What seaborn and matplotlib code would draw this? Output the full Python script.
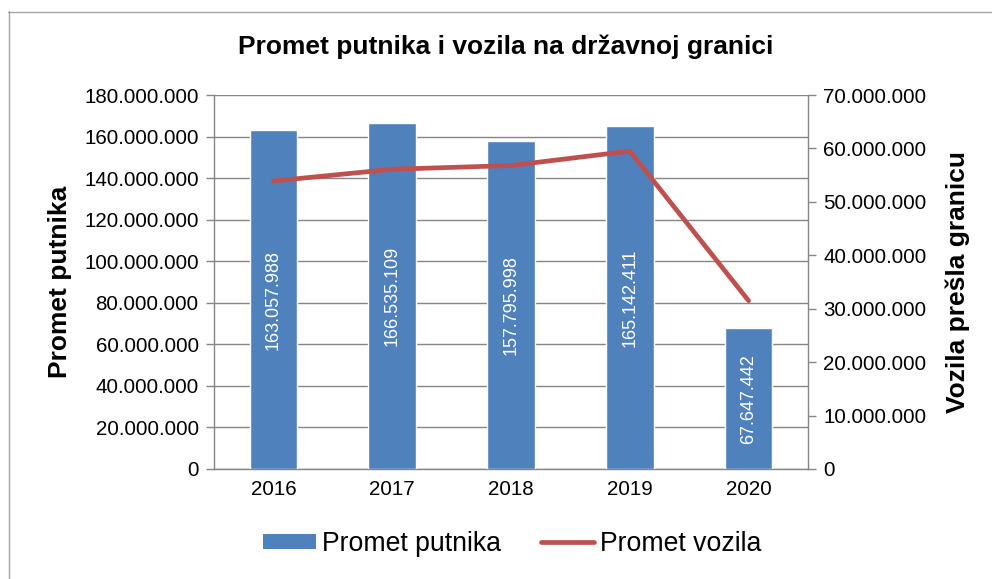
import matplotlib
matplotlib.use("Agg")
import matplotlib.pyplot as plt
import seaborn as sns
import numpy as np
import pandas as pd
from matplotlib.lines import Line2D
from matplotlib.patches import Patch
from matplotlib.ticker import FuncFormatter, MultipleLocator, FixedLocator

# ---- data ----
years = ["2016", "2017", "2018", "2019", "2020"]
promet_putnika = [163057988, 166535109, 157795998, 165142411, 67647442]
promet_vozila = [53900000, 56100000, 56800000, 59500000, 31500000]

title = "Promet putnika i vozila na državnoj granici"
left_label = "Promet putnika"
right_label = "Vozila prešla granicu"
series_names = ["Promet putnika", "Promet vozila"]

BLUE = "#4F81BD"
RED = "#C0504D"
GRID = "#868686"

sns.set_theme(style="white")
plt.rcParams['font.family'] = ['Liberation Sans', 'DejaVu Sans']
plt.rcParams['text.color'] = 'black'
plt.rcParams['axes.labelcolor'] = 'black'
plt.rcParams['xtick.color'] = 'black'
plt.rcParams['ytick.color'] = 'black'

W, H = 992, 579
fig = plt.figure(figsize=(W / 100, H / 100), dpi=100)
ax = fig.add_axes([214 / W, (H - 469) / H, 594 / W, 374 / H])

df = pd.DataFrame({"Godina": years, "Promet putnika": promet_putnika})
sns.barplot(data=df, x="Godina", y="Promet putnika", color=BLUE, saturation=1,
            width=0.4, ax=ax, zorder=3)


def dotfmt(v, pos=None):
    return f"{int(round(v)):,}".replace(",", ".")


ax.set_axisbelow(True)
ax.set_ylim(0, 180_000_000)
ax.yaxis.set_major_locator(MultipleLocator(20_000_000))
ax.yaxis.set_major_formatter(FuncFormatter(dotfmt))
ax.yaxis.grid(True, color=GRID, lw=1)
ax.set_xlim(-0.5, len(years) - 0.5)
ax.xaxis.set_minor_locator(FixedLocator(np.arange(-0.5, len(years), 1.0)))
ax.tick_params(axis='x', which='major', length=0, labelsize=14.8, pad=8, labelcolor='black')
ax.tick_params(axis='x', which='minor', length=6, color=GRID, width=1, direction='out')
ax.tick_params(axis='y', length=6, color=GRID, width=1, direction='out', labelsize=14.8,
               pad=5, labelcolor='black', left=True)
ax.set_xlabel("")
for s in ["top", "right"]:
    ax.spines[s].set_visible(False)
for s in ["left", "bottom"]:
    ax.spines[s].set_color(GRID)
    ax.spines[s].set_linewidth(1)

labels = [dotfmt(v) for v in promet_putnika]
ax.bar_label(ax.containers[0], labels=labels, label_type='center', rotation=90,
             color='white', fontsize=13)

ax.set_ylabel(left_label, fontsize=19, fontweight='bold', color='black')
ax.yaxis.set_label_coords((60 - 214) / 594, 0.5)
ax.yaxis.label.set_va('center')

ax2 = ax.twinx()
sns.lineplot(x=np.arange(len(years)), y=promet_vozila, color=RED, lw=3.4, ax=ax2,
             zorder=4)
ax2.set_ylim(0, 70_000_000)
ax2.yaxis.set_major_locator(MultipleLocator(10_000_000))
ax2.yaxis.set_major_formatter(FuncFormatter(dotfmt))
ax2.tick_params(axis='y', length=6, color=GRID, width=1, direction='out', labelsize=14.8,
                pad=5, labelcolor='black', right=True)
for s in ["top", "left", "bottom"]:
    ax2.spines[s].set_visible(False)
ax2.spines["right"].set_color(GRID)
ax2.spines["right"].set_linewidth(1)
ax2.set_ylabel(right_label, fontsize=19, fontweight='bold', color='black')
ax2.yaxis.set_label_coords((958 - 214) / 594, 0.5)
ax2.yaxis.label.set_va('center')
ax2.set_xlim(-0.5, len(years) - 0.5)

fig.suptitle(title, x=506 / W, y=1 - 47 / H, va='center', fontsize=19,
             fontweight='bold', color='black')

handles = [Patch(facecolor=BLUE, edgecolor='none'),
           Line2D([0], [0], color=RED, lw=3.4)]
fig.legend(handles, series_names, loc='center', bbox_to_anchor=(512 / W, 1 - 544 / H),
           ncol=2, frameon=False, fontsize=19.2, handlelength=2.0, handleheight=0.5,
           handletextpad=0.22, columnspacing=1.5, labelcolor='black')

# chart area border
fig.add_artist(Line2D([8.5 / W, 8.5 / W], [0, 1 - 11 / H], transform=fig.transFigure,
                      color="#A6A6A6", lw=1))
fig.add_artist(Line2D([8 / W, 1], [1 - 11.5 / H, 1 - 11.5 / H], transform=fig.transFigure,
                      color="#A6A6A6", lw=1))

fig.savefig("out.png", dpi=100)
